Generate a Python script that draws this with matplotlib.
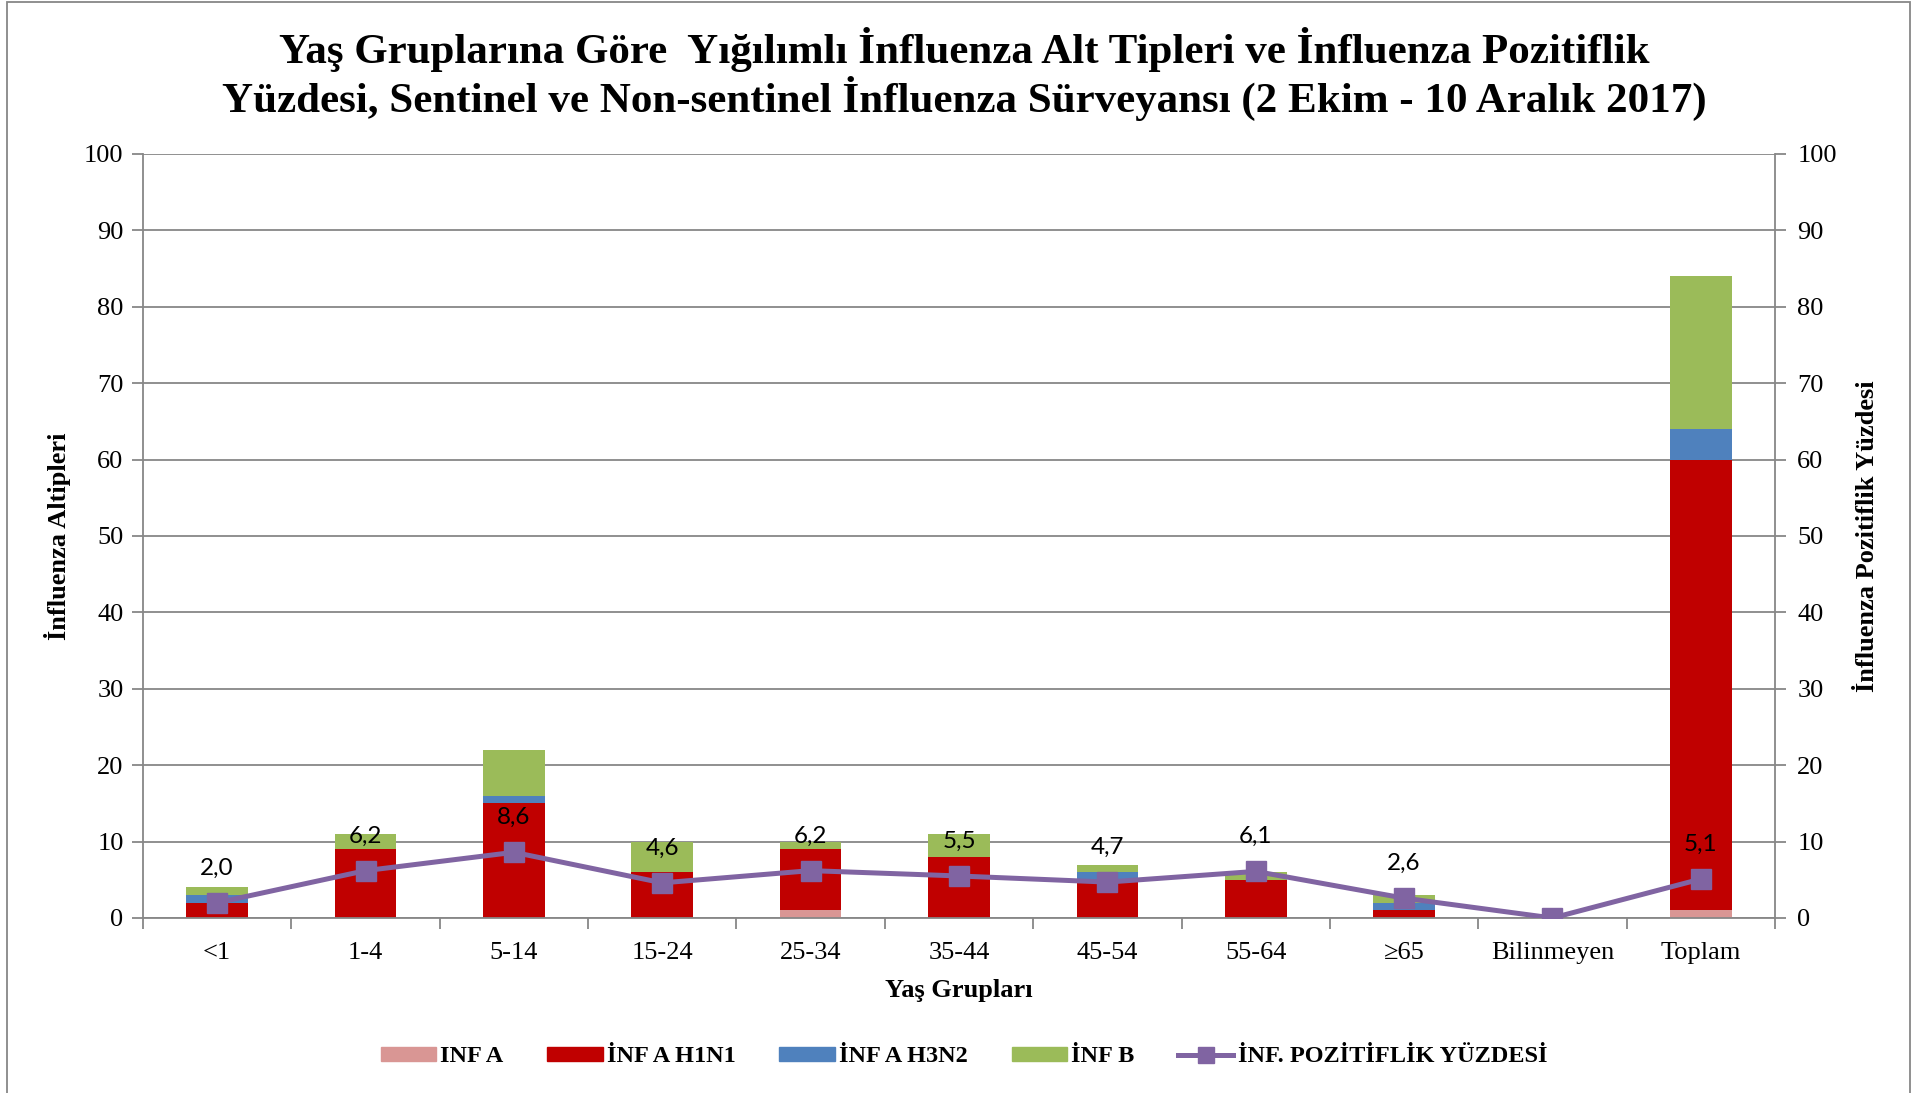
import numpy as np
import matplotlib as mpl
import matplotlib.pyplot as plt
from matplotlib.patches import Patch, Rectangle
from matplotlib.lines import Line2D

# data
groups = ['<1', '1-4', '5-14', '15-24', '25-34', '35-44', '45-54', '55-64', '≥65', 'Bilinmeyen', 'Toplam']
inf_a = [0, 0, 0, 0, 1, 0, 0, 0, 0, 0, 1]
inf_a_h1n1 = [2, 9, 15, 6, 8, 8, 5, 5, 1, 0, 59]
inf_a_h3n2 = [1, 0, 1, 0, 0, 0, 1, 0, 1, 0, 4]
inf_b = [1, 2, 6, 4, 1, 3, 1, 1, 1, 0, 20]
pozitiflik = [2.0, 6.2, 8.6, 4.6, 6.2, 5.5, 4.7, 6.1, 2.6, 0.0, 5.1]
pct_labels = ['2,0', '6,2', '8,6', '4,6', '6,2', '5,5', '4,7', '6,1', '2,6', '', '5,1']

col_a = '#D99694'
col_h1 = '#C00000'
col_h3 = '#4F81BD'
col_b = '#9BBB59'
col_line = '#8064A2'
grey = '#878787'

serif = 'Liberation Serif'
plt.rc('font', family=serif, size=19)
mpl.rcParams['axes.linewidth'] = 1.3

fig = plt.figure(figsize=(19.28, 10.93), dpi=100)
ax = fig.add_axes([143/1928, 1 - 918/1093, (1775 - 143)/1928, (918 - 154)/1093])

x = np.arange(len(groups))
w = 0.415
b1 = np.array(inf_a)
b2 = b1 + np.array(inf_a_h1n1)
b3 = b2 + np.array(inf_a_h3n2)
ax.bar(x, inf_a, w, color=col_a, zorder=2)
ax.bar(x, inf_a_h1n1, w, bottom=b1, color=col_h1, zorder=2)
ax.bar(x, inf_a_h3n2, w, bottom=b2, color=col_h3, zorder=2)
ax.bar(x, inf_b, w, bottom=b3, color=col_b, zorder=2)

ax.set_xlim(-0.5, len(groups) - 0.5)
ax.set_ylim(0, 100)
ax.set_yticks(range(0, 101, 10))
ax.yaxis.grid(True, color=grey, linewidth=1.3, zorder=0)
ax.set_axisbelow(True)
ax.set_xticks(x)
ax.set_xticklabels(groups)
ax.set_xticks(np.arange(-0.5, len(groups), 1), minor=True)
ax.tick_params(axis='x', which='major', length=0, pad=17)
ax.tick_params(axis='x', which='minor', length=8, width=1.3, color=grey, direction='out')
ax.tick_params(axis='y', length=8, width=1.3, color=grey, direction='out', pad=6)
for s in ['left', 'bottom', 'right']:
    ax.spines[s].set_color(grey)
ax.spines['top'].set_visible(False)
ax.set_xlabel('Yaş Grupları', fontsize=19, fontweight='bold')
ax.xaxis.set_label_coords(0.5, -0.080)
ax.set_ylabel('İnfluenza Altipleri', fontsize=19, fontweight='bold')
ax.yaxis.set_label_coords(-0.044, 0.5)

ax2 = ax.twinx()
ax2.set_ylim(0, 100)
ax2.set_yticks(range(0, 101, 10))
ax2.tick_params(axis='y', length=8, width=1.3, color=grey, direction='out', pad=8)
for s in ax2.spines.values():
    s.set_visible(False)
ax2.plot(x, pozitiflik, color=col_line, linewidth=3.6, marker='s', markersize=14, zorder=4)
for xi, yi, lab in zip(x, pozitiflik, pct_labels):
    if lab:
        ax2.annotate(lab, (xi, yi), xytext=(0, 25), textcoords='offset points',
                     ha='center', va='center', fontsize=17.5, family='Lato')
ax2.set_ylabel('İnfluenza Pozitiflik Yüzdesi', fontsize=19, fontweight='bold')
ax2.yaxis.set_label_coords(1.0495, 0.5)

fig.text(0.5, 1 - 74/1093, 'Yaş Gruplarına Göre  Yığılımlı İnfluenza Alt Tipleri ve İnfluenza Pozitiflik\n'
         'Yüzdesi, Sentinel ve Non-sentinel İnfluenza Sürveyansı (2 Ekim - 10 Aralık 2017)',
         ha='center', va='center', fontsize=31, fontweight='bold', linespacing=1.1)

handles = [Patch(color=col_a), Patch(color=col_h1), Patch(color=col_h3), Patch(color=col_b),
           Line2D([], [], color=col_line, linewidth=3.6, marker='s', markersize=11)]
labels = ['INF A', 'İNF A H1N1', 'İNF A H3N2', 'İNF B', 'İNF. POZİTİFLİK YÜZDESİ']
fig.legend(handles, labels, loc='center', bbox_to_anchor=(0.5, 1 - 1057/1093), ncol=5, frameon=False,
           prop={'family': serif, 'weight': 'bold', 'size': 17.5}, handlelength=2.27, handleheight=0.55,
           columnspacing=1.8, handletextpad=0.18)

# outer chart border
fig.patches.append(Rectangle((7/1928, -0.05), (1910 - 7)/1928, 1.05 - 2/1093, transform=fig.transFigure,
                             fill=False, edgecolor=grey, linewidth=1.3))

fig.savefig('out.png', dpi=100)
